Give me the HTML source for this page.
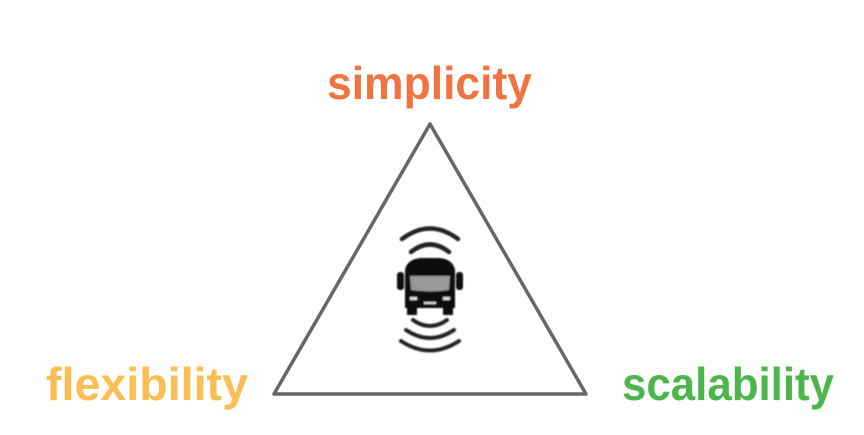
<!DOCTYPE html>
<html><head><meta charset="utf-8"><style>
html,body{margin:0;padding:0;background:#fff;}
svg{display:block}
text{font-family:"Liberation Sans",sans-serif;font-weight:bold;}
</style></head><body>
<svg width="864" height="435" viewBox="0 0 864 435" xmlns="http://www.w3.org/2000/svg">
<defs><filter id="b"><feGaussianBlur stdDeviation="0.9"/></filter></defs>
<text x="327" y="99" font-size="46" fill="#ef7441" textLength="205" lengthAdjust="spacingAndGlyphs">simplicity</text>
<text x="46" y="400" font-size="46" fill="#fcbe52" textLength="202" lengthAdjust="spacingAndGlyphs">flexibility</text>
<text x="622" y="400" font-size="46" fill="#4cb64c" textLength="212" lengthAdjust="spacingAndGlyphs">scalability</text>
<polygon points="430,124 274,394 586,394" fill="none" stroke="#666" stroke-width="3.5" stroke-linejoin="round"/>
<g filter="url(#b)" fill="none" stroke="#222" stroke-linecap="round">
<path d="M402,239 Q430,218 458,239" stroke-width="4.5"/>
<path d="M411,252 Q430,237 449,252" stroke-width="4.5"/>
<path d="M413,320 Q430,332 447,320" stroke-width="4"/>
<path d="M406,330 Q430,346 454,330" stroke-width="4"/>
<path d="M401,341 Q430,360 459,341" stroke-width="4"/>
</g>
<g filter="url(#b)">
<path d="M405,270 Q407,259 421,258 L439,258 Q453,259 455,270 L455,308 L405,308 Z" fill="#111"/>
<rect x="397" y="272" width="7" height="18" rx="3" fill="#111"/>
<rect x="456" y="272" width="7" height="18" rx="3" fill="#111"/>
<path d="M410,276 L450,276 L449,290 Q430,293 411,290 Z" fill="#999"/>
<rect x="407" y="308" width="10" height="7" fill="#111"/>
<rect x="443" y="308" width="10" height="7" fill="#111"/>
<rect x="410" y="297" width="7" height="3" fill="#ddd"/>
<rect x="443" y="297" width="7" height="3" fill="#ddd"/>
<rect x="424" y="302" width="12" height="2" fill="#ddd"/>
</g>
</svg>
</body></html>
